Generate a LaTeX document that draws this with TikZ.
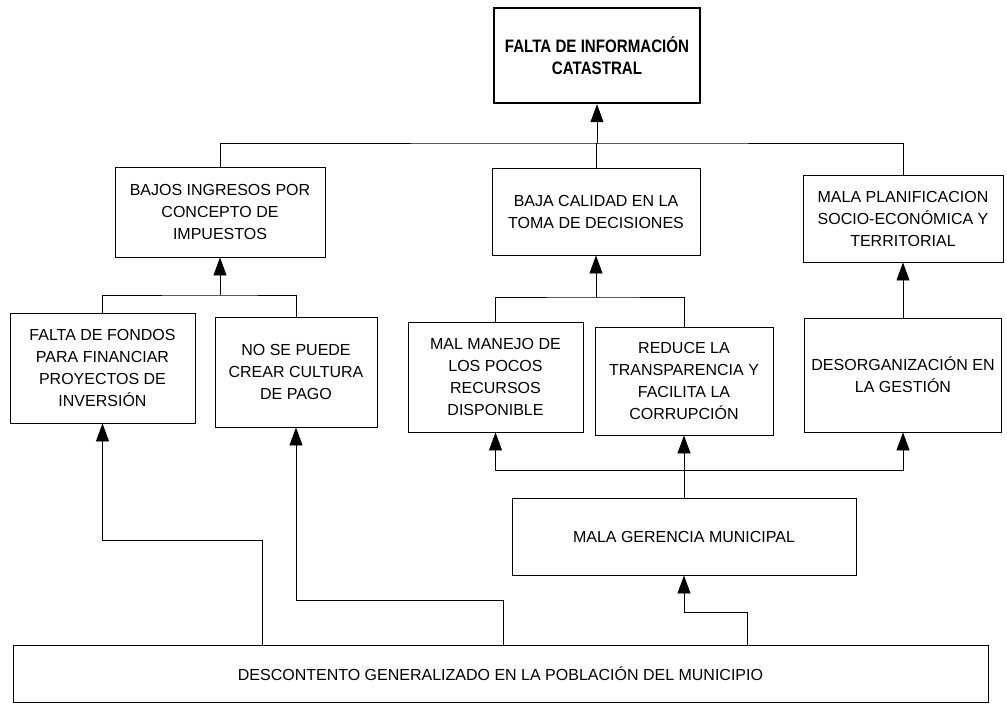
\documentclass[tikz,border=0pt]{standalone}
\usepackage{fontspec}
\setmainfont{Liberation Sans}
\newfontfamily\titlefont[FakeStretch=0.84]{Liberation Sans}
\usetikzlibrary{arrows.meta}
\begin{document}
\begin{tikzpicture}[x=1pt,y=-1pt,
  box/.style={draw=black,line width=0.9pt,align=center,inner sep=0pt,
    font=\fontsize{16}{22}\selectfont},
  titlebox/.style={draw=black,line width=2.4pt,align=center,inner sep=0pt,
    font=\titlefont\bfseries\fontsize{18}{22}\selectfont},
  conn/.style={line width=0.9pt},
  arr/.style={line width=0.9pt,-{Triangle[width=13pt,length=18pt]}}]
\useasboundingbox (0,0) rectangle (1007,705);
% nodes
\node[titlebox,minimum width=206,minimum height=95] (t) at (597,55.5) {FALTA DE INFORMACIÓN\\CATASTRAL};
\node[box,minimum width=210,minimum height=90] (b1) at (220,212) {BAJOS INGRESOS POR\\CONCEPTO DE\\IMPUESTOS};
\node[box,minimum width=208,minimum height=87] (b2) at (596,211.5) {BAJA CALIDAD EN LA\\TOMA DE DECISIONES};
\node[box,minimum width=200,minimum height=87] (b3) at (903,218.5) {MALA PLANIFICACION\\SOCIO-ECONÓMICA Y\\TERRITORIAL};
\node[box,minimum width=185,minimum height=110] (c1) at (102.5,368) {FALTA DE FONDOS\\PARA FINANCIAR\\PROYECTOS DE\\INVERSIÓN};
\node[box,minimum width=162,minimum height=110] (c2) at (296,372) {NO SE PUEDE\\CREAR CULTURA\\DE PAGO};
\node[box,minimum width=175,minimum height=110] (c3) at (495.5,377) {MAL MANEJO DE\\LOS POCOS\\RECURSOS\\DISPONIBLE};
\node[box,minimum width=178,minimum height=108] (c4) at (684,381) {REDUCE LA\\TRANSPARENCIA Y\\FACILITA LA\\CORRUPCIÓN};
\node[box,minimum width=197,minimum height=114] (c5) at (903,375) {DESORGANIZACIÓN EN\\LA GESTIÓN};
\node[box,minimum width=344,minimum height=77] (d) at (684,536.5) {MALA GERENCIA MUNICIPAL};
\node[box,minimum width=975,minimum height=57] (e) at (500.5,673.5) {DESCONTENTO GENERALIZADO EN LA POBLACIÓN DEL MUNICIPIO};
% junction coordinates
\coordinate (j1) at (597,143);
\coordinate (j2) at (220,295);
\coordinate (j3) at (596,297);
\coordinate (h3) at (684,470);
\coordinate (k1) at (747,612);
\coordinate (p1) at (262,540);
\coordinate (p2) at (503,600);
% level 1
\draw[arr] (j1) -- (t.south);
\draw[conn] (b1.north) |- (j1) -| (b3.north);
\draw[conn] (b2.north) -- (b2.north |- j1);
% level 2 left
\draw[arr] (j2) -- (b1.south);
\draw[conn] (c1.north) |- (j2) -| (c2.north);
% level 2 middle
\draw[arr] (j3) -- (b2.south);
\draw[conn] (c3.north) |- (j3) -| (c4.north);
% level 2 right
\draw[arr] (c5.north) -- (c5.north -| b3.south) -- (b3.south);
% level 3
\draw[conn] (d.north) -- (h3);
\draw[arr] (h3) -- (c4.south);
\draw[arr] (h3) -| (c3.south);
\draw[arr] (h3) -| (c5.south);
% bottom
\draw[arr] (e.north -| k1) -- (k1) -| (d.south);
\draw[arr] (e.north -| p1) -- (p1) -| (c1.south);
\draw[arr] (e.north -| p2) -- (p2) -| (c2.south);
\end{tikzpicture}
\end{document}
